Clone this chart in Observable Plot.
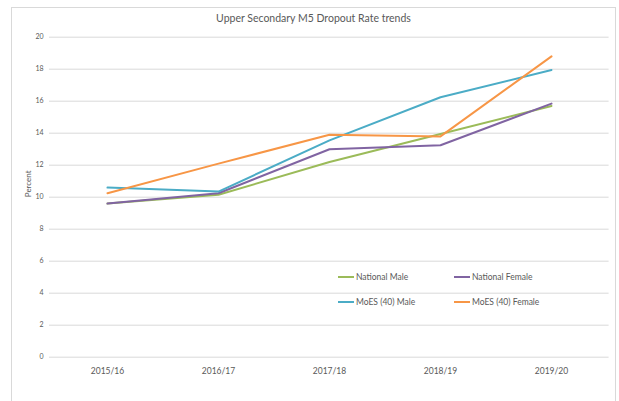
<!DOCTYPE html>
<html>
<head>
<meta charset="utf-8">
<script src="https://cdn.jsdelivr.net/npm/d3@7"></script>
<script src="https://cdn.jsdelivr.net/npm/@observablehq/plot@0.6"></script>
<style>
  html, body { margin: 0; padding: 0; background: #fff; }
  #wrap { position: relative; width: 619px; height: 401px; overflow: hidden; font-family: Lato, "Open Sans", sans-serif; }
  #border { position: absolute; left: 11px; top: 7px; width: 605px; height: 400px; border: 1px solid #d9d9d9; box-sizing: border-box; }
  #title { height: 28px; line-height: 26px; text-align: center; font-size: 10.5px; color: #595959; padding-left: 8px; box-sizing: border-box; position: relative; top: 5px; }
  #chart { position: relative; }
  #legend { position: absolute; left: 338px; top: 272px; width: 240px; font-size: 8.5px; color: #595959; }
  .item { position: absolute; display: flex; align-items: center; white-space: nowrap; }
  .sw { width: 16px; height: 2px; margin-right: 2px; }
</style>
</head>
<body>
<div id="wrap">
  <div id="border"></div>
  <div id="title">Upper Secondary M5 Dropout Rate trends</div>
  <div id="chart"></div>
  <div id="legend"></div>
</div>
<script>
const years = ["2015/16", "2016/17", "2017/18", "2018/19", "2019/20"];
const seriesNames = ["National Male", "National Female", "MoES (40) Male", "MoES (40) Female"];
const seriesColors = ["#9BBB59", "#8064A2", "#4BACC6", "#F79646"];
const nationalMale = [9.6, 10.15, 12.2, 13.95, 15.7];
const nationalFemale = [9.6, 10.25, 13.0, 13.25, 15.85];
const moesMale = [10.6, 10.35, 13.55, 16.25, 17.95];
const moesFemale = [10.25, 12.1, 13.9, 13.8, 18.8];
const yTicks = [0, 2, 4, 6, 8, 10, 12, 14, 16, 18, 20];

const seriesValues = [nationalMale, nationalFemale, moesMale, moesFemale];
const data = [];
seriesNames.forEach((s, i) => {
  years.forEach((yr, j) => data.push({series: s, year: yr, value: seriesValues[i][j]}));
});

const chart = Plot.plot({
  width: 619,
  height: 373,
  marginLeft: 49,
  marginRight: 10.4,
  marginTop: 8.7,
  marginBottom: 44.3,
  style: {fontFamily: "Lato, 'Open Sans', sans-serif", color: "#595959", background: "transparent"},
  x: {type: "point", domain: years, padding: 0.5},
  y: {domain: [0, 20]},
  color: {domain: seriesNames, range: seriesColors},
  marks: [
    Plot.ruleY(yTicks, {stroke: "#d9d9d9", strokeWidth: 1}),
    Plot.axisY({ticks: yTicks, tickSize: 0, tickPadding: 6, fontSize: 7, label: null, fill: "#595959"}),
    Plot.axisX({tickSize: 0, tickPadding: 11, fontSize: 8.5, label: null, fill: "#595959"}),
    Plot.text(["Percent"], {frameAnchor: "left", dx: -21, rotate: -90, fontSize: 8, fill: "#595959"}),
    Plot.line(data, {x: "year", y: "value", z: "series", stroke: "series", strokeWidth: 2})
  ]
});
document.getElementById("chart").appendChild(chart);

const legend = document.getElementById("legend");
seriesNames.forEach((s, i) => {
  const it = document.createElement("div");
  it.className = "item";
  it.style.left = (i % 2) * 116 + "px";
  it.style.top = Math.floor(i / 2) * 25 + "px";
  const sw = document.createElement("span");
  sw.className = "sw";
  sw.style.background = seriesColors[i];
  const tx = document.createElement("span");
  tx.textContent = s;
  it.appendChild(sw);
  it.appendChild(tx);
  legend.appendChild(it);
});
</script>
</body>
</html>
